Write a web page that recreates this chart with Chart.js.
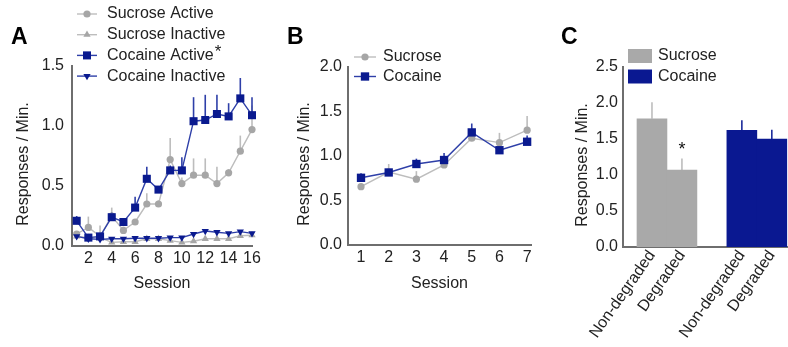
<!DOCTYPE html>
<html>
<head>
<meta charset="utf-8">
<script src="https://cdn.jsdelivr.net/npm/chart.js@4/dist/chart.umd.min.js"></script>
<style>
  body { margin: 0; background: #fff; }
  #page { position: relative; width: 788px; height: 347px; font-family: "Liberation Sans", Arial, sans-serif; }
  canvas { position: absolute; top: 0; }
  .lettre { position: absolute; top: 25px; font-size: 23px; line-height: 23px; font-weight: bold; color: #000; }
</style>
</head>
<body>
<div id="page">
  <canvas id="chartA" width="270" height="347" style="left:0px"></canvas>
  <canvas id="chartB" width="270" height="347" style="left:280px"></canvas>
  <canvas id="chartC" width="233" height="347" style="left:555px"></canvas>
  <div class="lettre" style="left:11px">A</div>
  <div class="lettre" style="left:287px">B</div>
  <div class="lettre" style="left:561px">C</div>
</div>
<script>
// --- donnees panneau A (16 sessions)
const sessionsA = [1, 2, 3, 4, 5, 6, 7, 8, 9, 10, 11, 12, 13, 14, 15, 16];
const ticksA = [2, 4, 6, 8, 10, 12, 14, 16];
const sucroseActif = [0.10, 0.155, 0.08, 0.25, 0.13, 0.20, 0.35, 0.35, 0.72, 0.52, 0.59, 0.59, 0.52, 0.61, 0.79, 0.97];
const sucroseActifErr = [0.02, 0.09, 0.09, 0.07, 0.03, 0.02, 0.09, 0.03, 0.18, 0.05, 0.14, 0.14, 0.14, 0.03, 0.13, 0.20];
const sucroseInactif = [0.08, 0.07, 0.07, 0.03, 0.035, 0.035, 0.06, 0.06, 0.045, 0.03, 0.04, 0.06, 0.06, 0.06, 0.085, 0.09];
const sucroseInactifErr = [0.01, 0.01, 0.01, 0.01, 0.01, 0.01, 0.01, 0.01, 0.01, 0.01, 0.01, 0.01, 0.01, 0.01, 0.01, 0.01];
const cocaineActif = [0.21, 0.07, 0.08, 0.24, 0.20, 0.32, 0.56, 0.47, 0.63, 0.63, 1.04, 1.05, 1.10, 1.08, 1.23, 1.09];
const cocaineActifErr = [0.04, 0.01, 0.01, 0.04, 0.03, 0.09, 0.10, 0.03, 0.04, 0.11, 0.20, 0.21, 0.16, 0.11, 0.17, 0.15];
const cocaineInactif = [0.08, 0.06, 0.055, 0.06, 0.06, 0.065, 0.065, 0.065, 0.07, 0.07, 0.10, 0.125, 0.115, 0.105, 0.12, 0.105];
const cocaineInactifErr = [0.01, 0.01, 0.01, 0.01, 0.01, 0.01, 0.01, 0.01, 0.01, 0.01, 0.01, 0.01, 0.01, 0.01, 0.01, 0.01];

// --- donnees panneau B (7 sessions)
const sessionsB = [1, 2, 3, 4, 5, 6, 7];
const sucroseB = [0.655, 0.82, 0.74, 0.90, 1.20, 1.15, 1.29];
const sucroseBErr = [0.04, 0.09, 0.09, 0.04, 0.03, 0.11, 0.16];
const cocaineB = [0.755, 0.815, 0.91, 0.955, 1.265, 1.065, 1.16];
const cocaineBErr = [0.05, 0.03, 0.06, 0.08, 0.10, 0.02, 0.07];

// --- donnees panneau C
const positionsC = [1, 2, 4, 5];
const etiquettesC = ["Non-degraded", "Degraded", "Non-degraded", "Degraded"];
const sucroseC = [1.78, 1.07];
const sucroseCErr = [0.23, 0.16];
const cocaineC = [1.62, 1.50];
const cocaineCErr = [0.14, 0.13];

const GRIS_LIGNE = "#bdbdbd";
const GRIS_POINT = "#a6a6a6";
const BLEU_LIGNE = "#2e3fa8";
const BLEU_POINT = "#0a1a8f";
const AXE = "#6e6e6e";
const POLICE = '"Liberation Sans", Arial, sans-serif';

Chart.defaults.font.family = POLICE;
Chart.defaults.font.size = 16;
Chart.defaults.color = "#222";

function points(xs, ys){
    return xs.map((x, i) => ({x: x, y: ys[i]}));
}

// barres d'erreur vers le haut seulement
const barresErreur = {
    id: "barresErreur",
    beforeDatasetsDraw(chart){
        const ctx = chart.ctx;
        const yScale = chart.scales.y;
        chart.data.datasets.forEach((ds, i) => {
            if(!ds.erreurs) return;
            const meta = chart.getDatasetMeta(i);
            ctx.save();
            ctx.strokeStyle = ds.couleurErreur;
            ctx.lineWidth = 1.6;
            meta.data.forEach((el, j) => {
                const v = meta.controller.getParsed(j).y;
                const haut = yScale.getPixelForValue(v + ds.erreurs[j]);
                ctx.beginPath();
                ctx.moveTo(el.x, el.y);
                ctx.lineTo(el.x, haut);
                ctx.stroke();
            });
            ctx.restore();
        });
    },
    afterDatasetsDraw(chart){
        const ctx = chart.ctx;
        const yScale = chart.scales.y;
        chart.data.datasets.forEach((ds, i) => {
            if(!ds.etoiles) return;
            const meta = chart.getDatasetMeta(i);
            meta.data.forEach((el, j) => {
                if(!ds.etoiles[j]) return;
                const v = meta.controller.getParsed(j).y;
                const haut = yScale.getPixelForValue(v + ds.erreurs[j]);
                ctx.save();
                ctx.font = "18px " + POLICE;
                ctx.fillStyle = "#111";
                ctx.textAlign = "center";
                ctx.textBaseline = "alphabetic";
                ctx.fillText(ds.etoiles[j], el.x, haut - 3);
                ctx.restore();
            });
        });
    }
};

// titre de l'axe y, un peu plus bas que le centre de l'axe (comme l'original)
const titreY = {
    id: "titreY",
    afterDraw(chart, args, opts){
        if(!opts.texte) return;
        const ctx = chart.ctx;
        const a = chart.chartArea;
        ctx.save();
        ctx.translate(opts.x, (a.top + a.bottom) / 2 + opts.decalage);
        ctx.rotate(-Math.PI / 2);
        ctx.font = "16px " + POLICE;
        ctx.fillStyle = "#222";
        ctx.textAlign = "center";
        ctx.textBaseline = "middle";
        ctx.fillText(opts.texte, 0, 0);
        ctx.restore();
    }
};

// legende maison (ligne + marqueur, ou carre plein)
const legende = {
    id: "legende",
    afterDraw(chart, args, opts){
        if(!opts.items) return;
        const ctx = chart.ctx;
        ctx.save();
        ctx.textBaseline = "middle";
        opts.items.forEach((item, i) => {
            const ds = chart.data.datasets[item.ds];
            const y = opts.y + i * opts.pas;
            if(opts.boite){
                ctx.fillStyle = ds.backgroundColor;
                ctx.fillRect(opts.x, y - 7, opts.w, 14);
            } else {
                ctx.strokeStyle = ds.borderColor;
                ctx.lineWidth = ds.borderWidth;
                ctx.beginPath();
                ctx.moveTo(opts.x, y);
                ctx.lineTo(opts.x + opts.w, y);
                ctx.stroke();
                ctx.fillStyle = ds.pointBackgroundColor;
                Chart.helpers.drawPoint(ctx, {
                    pointStyle: ds.pointStyle,
                    radius: ds.pointRadius,
                    rotation: ds.pointRotation || 0,
                    borderWidth: 0
                }, opts.x + opts.w / 2, y);
            }
            ctx.font = "16px " + POLICE;
            ctx.fillStyle = "#222";
            ctx.fillText(ds.label, opts.texteX, y);
            if(item.etoile){
                const w = ctx.measureText(ds.label).width;
                ctx.font = "17px " + POLICE;
                ctx.fillText("*", opts.texteX + w + 1, y - 3);
            }
        });
        ctx.restore();
    }
};

function axeY(max, largeur, ecart){
    return {
        min: 0, max: max,
        stacked: false,
        afterFit: s => { s.width = largeur; },
        grid: {display: false, drawTicks: false},
        border: {display: true, color: AXE, width: 2},
        ticks: {stepSize: 0.5, padding: ecart, callback: v => v.toFixed(1)}
    };
}

function axeX(min, max, valeurs, hauteur, etiquettes){
    return {
        type: "linear", min: min, max: max,
        offset: false,
        afterFit: s => { s.height = hauteur; },
        afterBuildTicks: s => { s.ticks = valeurs.map(v => ({value: v})); },
        grid: {display: false, drawTicks: false},
        border: {display: true, color: AXE, width: 2},
        ticks: {
            autoSkip: false, padding: etiquettes ? 0 : 3,
            maxRotation: etiquettes ? 55 : 0, minRotation: etiquettes ? 55 : 0,
            callback: (v, i) => etiquettes ? etiquettes[i] : v
        },
        title: {display: !etiquettes, text: "Session", padding: {top: 0, bottom: 54}}
    };
}

function serie(label, xs, ys, errs, style, rayon, ligne, point, ordre, rotation){
    return {
        label: label,
        data: points(xs, ys),
        erreurs: errs,
        couleurErreur: ligne === GRIS_LIGNE ? GRIS_LIGNE : BLEU_LIGNE,
        borderColor: ligne,
        borderWidth: 1.4,
        pointStyle: style,
        pointRadius: rayon,
        pointRotation: rotation || 0,
        pointBackgroundColor: point,
        pointBorderWidth: 0,
        tension: 0,
        clip: false,
        order: ordre
    };
}

new Chart(document.querySelector("#chartA"), {
    type: "line",
    data: {
        datasets: [
            serie("Sucrose Active", sessionsA, sucroseActif, sucroseActifErr, "circle", 3.6, GRIS_LIGNE, GRIS_POINT, 2),
            serie("Sucrose Inactive", sessionsA, sucroseInactif, sucroseInactifErr, "triangle", 4.2, GRIS_LIGNE, GRIS_POINT, 3),
            serie("Cocaine Active", sessionsA, cocaineActif, cocaineActifErr, "rect", 5.7, BLEU_LIGNE, BLEU_POINT, 0),
            serie("Cocaine Inactive", sessionsA, cocaineInactif, cocaineInactifErr, "triangle", 4.2, BLEU_LIGNE, BLEU_POINT, 1, 180)
        ]
    },
    options: {
        responsive: false,
        animation: false,
        layout: {padding: {top: 66, right: 18, left: 0, bottom: 0}},
        scales: {
            x: axeX(0.6, 16, ticksA, 101),
            y: axeY(1.5, 72, 8)
        },
        plugins: {
            legend: {display: false},
            tooltip: {enabled: false},
            titreY: {texte: "Responses / Min.", x: 24, decalage: 8},
            legende: {x: 77, w: 20, texteX: 107, y: 14, pas: 20.7,
                items: [{ds: 0}, {ds: 1}, {ds: 2, etoile: true}, {ds: 3}]}
        }
    },
    plugins: [barresErreur, legende, titreY]
});

new Chart(document.querySelector("#chartB"), {
    type: "line",
    data: {
        datasets: [
            serie("Sucrose", sessionsB, sucroseB, sucroseBErr, "circle", 3.6, GRIS_LIGNE, GRIS_POINT, 1),
            serie("Cocaine", sessionsB, cocaineB, cocaineBErr, "rect", 5.9, BLEU_LIGNE, BLEU_POINT, 0)
        ]
    },
    options: {
        responsive: false,
        animation: false,
        layout: {padding: {top: 67, right: 19, left: 0, bottom: 0}},
        scales: {
            x: axeX(0.53, 7.14, sessionsB, 102),
            y: axeY(2.0, 68, 6)
        },
        plugins: {
            legend: {display: false},
            tooltip: {enabled: false},
            titreY: {texte: "Responses / Min.", x: 25, decalage: 8},
            legende: {x: 74, w: 22, texteX: 103, y: 57, pas: 19.5,
                items: [{ds: 0}, {ds: 1}]}
        }
    },
    plugins: [barresErreur, legende, titreY]
});

new Chart(document.querySelector("#chartC"), {
    type: "bar",
    data: {
        datasets: [
            {
                label: "Sucrose",
                data: points(positionsC.slice(0, 2), sucroseC),
                erreurs: sucroseCErr,
                etoiles: [null, "*"],
                couleurErreur: "#bdbdbd",
                backgroundColor: "#a9a9a9",
                stack: "g",
                barPercentage: 1, categoryPercentage: 1
            },
            {
                label: "Cocaine",
                data: points(positionsC.slice(2), cocaineC),
                erreurs: cocaineCErr,
                couleurErreur: "#1a2a9a",
                backgroundColor: "#0a1891",
                stack: "g",
                barPercentage: 1, categoryPercentage: 1
            }
        ]
    },
    options: {
        responsive: false,
        animation: false,
        layout: {padding: {top: 67, right: 0, left: 0, bottom: 0}},
        scales: {
            x: axeX(0.033, 5.54, positionsC, 100, etiquettesC),
            y: axeY(2.5, 68, 5)
        },
        plugins: {
            legend: {display: false},
            tooltip: {enabled: false},
            titreY: {texte: "Responses / Min.", x: 28, decalage: 8},
            legende: {boite: true, x: 73, w: 24, texteX: 103, y: 56, pas: 20.5,
                items: [{ds: 0}, {ds: 1}]}
        }
    },
    plugins: [barresErreur, legende, titreY]
});
</script>
</body>
</html>
